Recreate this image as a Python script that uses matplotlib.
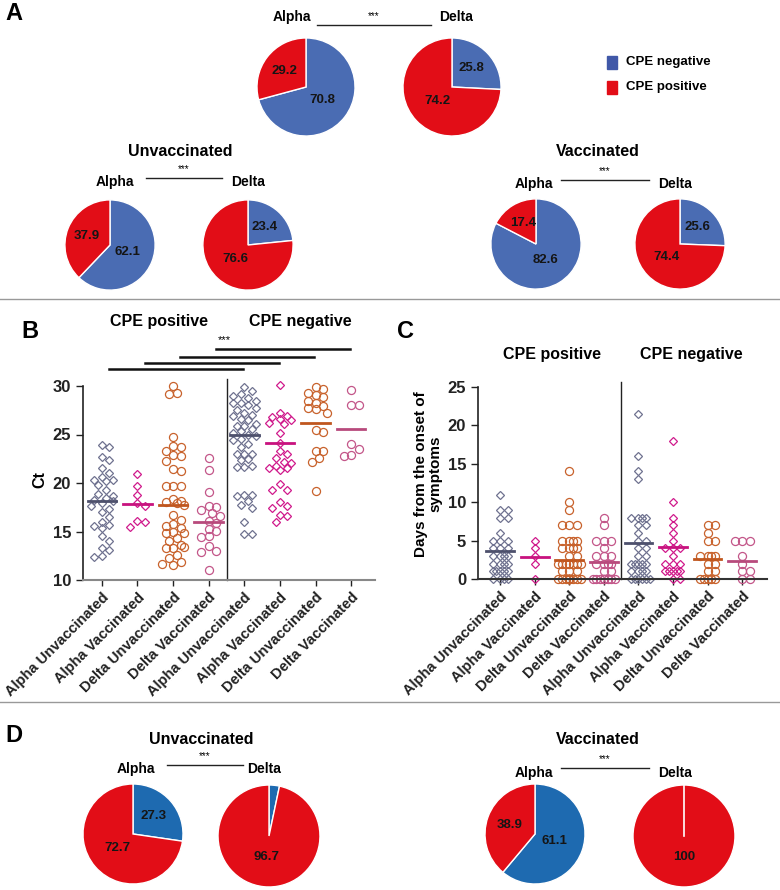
import numpy as np
import matplotlib
matplotlib.use('Agg')
import matplotlib.pyplot as plt
from matplotlib.lines import Line2D
from matplotlib.patches import Rectangle

plt.rcParams['font.family'] = ['Liberation Sans', 'DejaVu Sans']
plt.rcParams['font.weight'] = 'bold'

# pie data, [CPE negative, CPE positive] in %
a_all_alpha = [70.8, 29.2]
a_all_delta = [25.8, 74.2]
a_unvac_alpha = [62.1, 37.9]
a_unvac_delta = [23.4, 76.6]
a_vac_alpha = [82.6, 17.4]
a_vac_delta = [25.6, 74.4]
d_unvac_alpha = [27.3, 72.7]
d_unvac_delta = [3.3, 96.7]
d_vac_alpha = [61.1, 38.9]
d_vac_delta = [0, 100]

groups = ['Alpha Unvaccinated', 'Alpha Vaccinated', 'Delta Unvaccinated', 'Delta Vaccinated',
          'Alpha Unvaccinated', 'Alpha Vaccinated', 'Delta Unvaccinated', 'Delta Vaccinated']

# panel B, Ct values (first four CPE positive, last four CPE negative)
ct_alpha_unvac_pos = [23.9, 23.7, 22.7, 22.4, 21.5, 21.0, 20.6, 20.3, 20.3, 20.2, 19.8, 19.3, 18.9,
                      18.7, 18.5, 18.2, 18.1, 17.9, 17.6, 17.3, 17.0, 16.5, 16.0, 15.7, 15.6, 15.4,
                      14.5, 14.0, 13.3, 13.1, 12.5, 12.4]
ct_alpha_vac_pos = [20.9, 19.7, 18.8, 17.9, 17.6, 16.1, 16.0, 15.5]
ct_delta_unvac_pos = [30.0, 29.3, 29.2, 24.7, 23.8, 23.7, 23.3, 22.9, 22.8, 22.3, 21.4, 21.2, 19.7,
                      19.7, 19.7, 18.3, 18.1, 18.0, 17.9, 17.7, 16.7, 16.2, 15.8, 15.6, 15.4, 15.0,
                      14.8, 14.8, 14.3, 14.0, 13.6, 13.3, 13.3, 13.4, 12.6, 12.3, 11.9, 11.7, 11.5]
ct_delta_vac_pos = [22.6, 21.3, 19.1, 17.6, 17.5, 17.2, 16.9, 16.6, 16.1, 15.9, 15.3, 15.1, 14.5,
                    14.4, 13.5, 13.0, 12.9, 11.0]
ct_alpha_unvac_neg = [29.9, 29.5, 29.2, 29.0, 28.8, 28.5, 28.2, 28.2, 28.0, 27.7, 27.5, 27.2, 27.0,
                      26.9, 26.6, 26.5, 26.1, 25.9, 25.9, 25.6, 25.4, 25.2, 25.0, 24.8, 24.5, 24.4,
                      24.0, 23.7, 23.0, 23.0, 23.0, 22.5, 22.4, 21.8, 21.7, 21.6, 18.8, 18.8, 18.7,
                      18.1, 17.7, 17.4, 16.0, 14.7, 14.7]
ct_alpha_vac_neg = [30.1, 27.2, 26.9, 26.8, 26.6, 26.5, 26.2, 26.1, 25.2, 24.1, 23.3, 23.0, 22.6,
                    22.2, 22.1, 21.8, 21.5, 21.5, 21.3, 19.9, 19.3, 19.3, 18.0, 17.6, 17.4, 16.7,
                    16.6, 16.0]
ct_delta_unvac_neg = [29.9, 29.7, 29.3, 29.1, 28.9, 28.5, 28.2, 27.9, 27.7, 27.6, 27.2, 25.5, 25.3,
                      23.3, 23.3, 22.6, 22.2, 19.2]
ct_delta_vac_neg = [29.6, 28.0, 28.0, 24.0, 23.5, 22.9, 22.8]
ct_mean = [18.1, 17.8, 17.7, 16.0, 25.0, 24.1, 26.2, 25.6]

# panel C, days from the onset of symptoms
days_alpha_unvac_pos = [11, 9, 9, 8, 8, 6, 5, 5, 5, 4, 4, 4, 3, 3, 3, 3, 2, 2, 2, 2, 1, 1, 1, 1, 1,
                        0, 0, 0, 0]
days_alpha_vac_pos = [5, 4, 3, 2, 0]
days_delta_unvac_pos = [14, 10, 9, 7, 7, 7, 5, 5, 5, 5, 4, 4, 4, 4, 3, 3, 2, 2, 2, 2, 2, 2, 2, 2,
                        1, 1, 1, 0, 0, 0, 0, 0, 0, 0, 0, 0, 0, 0, 0, 0, 0, 0, 0, 0, 0]
days_delta_vac_pos = [8, 7, 5, 5, 5, 4, 3, 3, 3, 2, 2, 2, 2, 1, 1, 0, 0, 0, 0, 0, 0, 0, 0, 0]
days_alpha_unvac_neg = [21.5, 16, 14, 13, 8, 8, 8, 8, 7, 7, 6, 5, 5, 4, 4, 3, 3, 2, 2, 2, 2, 2, 1,
                        1, 1, 1, 0, 0, 0, 0, 0, 0]
days_alpha_vac_neg = [18, 10, 8, 7, 6, 5, 4, 4, 4, 3, 2, 2, 2, 1, 1, 1, 1, 1, 0, 0]
days_delta_unvac_neg = [7, 7, 6, 5, 5, 3, 3, 3, 3, 2, 2, 1, 1, 0, 0, 0, 0, 0]
days_delta_vac_neg = [5, 5, 5, 3, 2, 1, 1, 0, 0]
days_mean = [3.7, 2.8, 2.5, 2.2, 4.7, 4.2, 2.6, 2.3]

ct_sets = [ct_alpha_unvac_pos, ct_alpha_vac_pos, ct_delta_unvac_pos, ct_delta_vac_pos,
           ct_alpha_unvac_neg, ct_alpha_vac_neg, ct_delta_unvac_neg, ct_delta_vac_neg]
day_sets = [days_alpha_unvac_pos, days_alpha_vac_pos, days_delta_unvac_pos, days_delta_vac_pos,
            days_alpha_unvac_neg, days_alpha_vac_neg, days_delta_unvac_neg, days_delta_vac_neg]

W, H = 780, 890
BLUE = '#4a6cb3'
BLUE_D = '#1e6ab0'
RED = '#e20d17'
pt_colors = ['#6f728f', '#d01a8c', '#c8622c', '#c35689'] * 2
mean_colors = ['#4d506c', '#c8127e', '#c0561e', '#b84a7c'] * 2
pt_markers = ['D', 'D', 'o', 'o'] * 2

fig = plt.figure(figsize=(W / 100, H / 100), dpi=100)


def px_axes(x0, y0, x1, y1):
    return fig.add_axes([x0 / W, 1 - y1 / H, (x1 - x0) / W, (y1 - y0) / H])


def ftext(x, y, s, **kw):
    kw.setdefault('ha', 'center')
    kw.setdefault('va', 'center')
    fig.text(x / W, 1 - y / H, s, **kw)


def fline(x0, x1, y, **kw):
    fig.add_artist(Line2D([x0 / W, x1 / W], [1 - y / H, 1 - y / H], **kw))


def pct_label(p):
    if p < 5:
        return ''
    if p > 99.9:
        return '%.0f' % p
    return '%.1f' % p


def draw_pie(cx, cy, r, vals, blue):
    ax = px_axes(cx - r, cy - r, cx + r, cy + r)
    wedges, texts, autotexts = ax.pie(vals, colors=[blue, RED], startangle=90, counterclock=False,
                                      wedgeprops=dict(edgecolor='white', linewidth=1),
                                      autopct=pct_label, pctdistance=0.5,
                                      textprops=dict(fontsize=9.5, fontweight='bold', color='#151515'))
    tot = float(sum(vals))
    for w, t, v in zip(wedges, autotexts, vals):
        ang = np.deg2rad((w.theta1 + w.theta2) / 2)
        d = 0.42 if v / tot > 0.5 else 0.55
        t.set_position((d * np.cos(ang), d * np.sin(ang)))
    # a full-circle wedge has no radius edge, draw the seam at 12 o'clock
    if min(vals) == 0:
        ax.plot([0, 0], [0, 1], color='white', lw=1.2)
    ax.set_xlim(-1.02, 1.02)
    ax.set_ylim(-1.02, 1.02)


def sig_pair(xa, xd, xl0, xl1, yl, ys):
    ftext(xa, yl, 'Alpha', fontsize=10)
    ftext(xd, yl, 'Delta', fontsize=10)
    fline(xl0, xl1, ys, color='#222', lw=1)
    ftext((xl0 + xl1) / 2, ys - 9, '***', fontsize=7, fontweight='normal')


def swarm(vals, ypx, xpx, dmin, maxw):
    cands = [0.0]
    step = dmin * 0.5
    k = 1
    while k * step <= maxw:
        cands += [k * step, -k * step]
        k += 1
    placed = []
    offs = []
    for v in vals:
        y = v * ypx
        best, bestd = 0.0, -1
        for c in cands:
            d = min([np.hypot(c - px, y - py) for px, py in placed], default=99)
            if d >= dmin:
                best = c
                break
            if d > bestd:
                best, bestd = c, d
        placed.append((best, y))
        offs.append(best / xpx)
    return np.array(offs)


def style_axes(ax, xcolor):
    for s in ['top', 'right']:
        ax.spines[s].set_visible(False)
    ax.spines['left'].set_color('#222')
    ax.spines['left'].set_linewidth(1.2)
    ax.spines['bottom'].set_color(xcolor)
    ax.spines['bottom'].set_linewidth(1.5)
    ax.tick_params(axis='y', length=5, width=1, labelsize=12, colors='#222')
    ax.tick_params(axis='x', length=4, width=1, labelsize=10.5, colors='#222')
    ax.set_xticks(range(8))
    ax.set_xticklabels(groups, rotation=45, ha='right', rotation_mode='anchor', fontweight='bold')
    for t in ax.get_yticklabels():
        t.set_fontweight('bold')


# ---------- panel A ----------
ftext(14, 14, 'A', fontsize=17)
sig_pair(292, 456, 317, 431, 17, 25)
draw_pie(306, 87, 50, a_all_alpha, BLUE)
draw_pie(452, 87, 50, a_all_delta, BLUE)

fig.add_artist(Rectangle((607 / W, 1 - 69 / H), 10 / W, 13 / H, transform=fig.transFigure,
                         color='#4058a8'))
fig.add_artist(Rectangle((607 / W, 1 - 94 / H), 10 / W, 13 / H, transform=fig.transFigure,
                         color=RED))
ftext(626, 62, 'CPE negative', fontsize=9.5, ha='left')
ftext(626, 87, 'CPE positive', fontsize=9.5, ha='left')

ftext(180, 152, 'Unvaccinated', fontsize=11.5)
sig_pair(115, 248, 146, 222, 182, 178)
draw_pie(110, 245, 46, a_unvac_alpha, BLUE)
draw_pie(248, 245, 46, a_unvac_delta, BLUE)

ftext(598, 152, 'Vaccinated', fontsize=11.5)
sig_pair(534, 675, 561, 649, 184, 180)
draw_pie(536, 244, 46, a_vac_alpha, BLUE)
draw_pie(680, 244, 46, a_vac_delta, BLUE)

fline(0, 780, 299, color='#999', lw=1)

# ---------- panel B ----------
ftext(30, 331, 'B', fontsize=17)
axB = px_axes(83, 386, 375, 580)
for i, vals in enumerate(ct_sets):
    xo = swarm(vals, 9.6, 35.6, 7.5, 14)
    axB.plot(i + xo, vals, ls='none', marker=pt_markers[i], ms=5.8 if pt_markers[i] == 'o' else 4.3,
             mfc='none', mec=pt_colors[i], mew=0.9, clip_on=False)
    axB.plot([i - 0.4, i + 0.4], [ct_mean[i], ct_mean[i]], color=mean_colors[i], lw=2)
axB.set_xlim(-0.53, 7.67)
axB.set_ylim(10, 30)
axB.set_yticks([10, 15, 20, 25, 30])
style_axes(axB, '#888')
axB.axvline(3.5, ymin=0, ymax=1.036, color='#222', lw=1, clip_on=False)
for i, yl in enumerate([31.8, 32.4, 33.0, 33.85]):
    axB.plot([i + 0.2, i + 3.97], [yl, yl], color='#111', lw=1.8, clip_on=False)
axB.text(3.45, 34.7, '***', ha='center', va='center', fontsize=8, fontweight='normal')
axB.text(1.6, 36.6, 'CPE positive', ha='center', va='center', fontsize=11.5)
axB.text(5.56, 36.6, 'CPE negative', ha='center', va='center', fontsize=11.5)
ftext(40, 480, 'Ct', fontsize=11.5, rotation=90)

# ---------- panel C ----------
ftext(405, 331, 'C', fontsize=17)
axC = px_axes(478, 387, 767, 579)
for i, vals in enumerate(day_sets):
    xo = swarm(vals, 7.68, 34.6, 7.5, 13)
    axC.plot(i + xo, vals, ls='none', marker=pt_markers[i], ms=5.8 if pt_markers[i] == 'o' else 4.3,
             mfc='none', mec=pt_colors[i], mew=0.9, clip_on=False)
    axC.plot([i - 0.4, i + 0.4], [days_mean[i], days_mean[i]], color=mean_colors[i], lw=2)
axC.set_xlim(-0.64, 7.72)
axC.set_ylim(0, 25)
axC.set_yticks([0, 5, 10, 15, 20, 25])
style_axes(axC, '#333')
axC.axvline(3.5, ymin=0, ymax=1.026, color='#222', lw=1, clip_on=False)
axC.text(1.5, 29.2, 'CPE positive', ha='center', va='center', fontsize=11.5)
axC.text(5.52, 29.2, 'CPE negative', ha='center', va='center', fontsize=11.5)
ftext(428, 474, 'Days from the onset of\nsymptoms', fontsize=11, rotation=90, multialignment='center',
      linespacing=1.0)

fline(0, 780, 702, color='#999', lw=1)

# ---------- panel D ----------
ftext(14, 735, 'D', fontsize=17)
ftext(201, 739, 'Unvaccinated', fontsize=11.5)
sig_pair(136, 264, 167, 243, 769, 765)
draw_pie(133, 834, 51, d_unvac_alpha, BLUE_D)
draw_pie(269, 836, 52, d_unvac_delta, BLUE_D)

ftext(598, 739, 'Vaccinated', fontsize=11.5)
sig_pair(534, 675, 561, 649, 773, 768)
draw_pie(535, 834, 51, d_vac_alpha, BLUE_D)
draw_pie(684, 836, 52, d_vac_delta, BLUE_D)

fig.savefig('out.png', dpi=100, facecolor='white')
